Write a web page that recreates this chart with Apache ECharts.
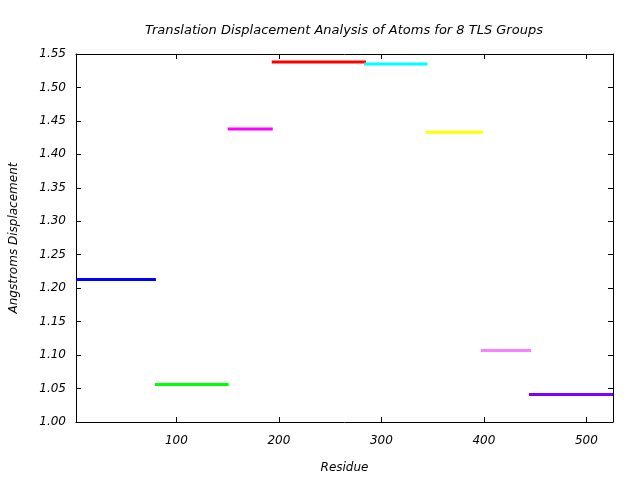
<!DOCTYPE html>
<html>
<head>
<meta charset="utf-8">
<script src="https://cdn.jsdelivr.net/npm/echarts@6/dist/echarts.min.js"></script>
<style>html,body{margin:0;padding:0;background:#fff;}#c{width:640px;height:480px;}</style>
</head>
<body>
<div id="c"></div>
<script>
var groupStart = [2, 79, 150, 193, 283, 343, 397, 444];
var groupEnd   = [80, 151, 194, 285, 345, 399, 446, 526];
var groupValue = [1.213, 1.056, 1.438, 1.538, 1.535, 1.433, 1.107, 1.041];
var groupColors = ['#0000ff', '#00ff00', '#ff00ff', '#ff0000', '#00ffff', '#ffff00', '#ff80ff', '#8000ff'];
var xTicks = [100, 200, 300, 400, 500];
var yTicks = [1.00, 1.05, 1.10, 1.15, 1.20, 1.25, 1.30, 1.35, 1.40, 1.45, 1.50, 1.55];

var FONT = 'DejaVu Sans';
var chart = echarts.init(document.getElementById('c'), null, {renderer: 'canvas'});
var series = groupStart.map(function (s, i) {
  return {
    type: 'line',
    data: [[s, groupValue[i]], [groupEnd[i], groupValue[i]]],
    showSymbol: false,
    symbol: 'none',
    lineStyle: {color: groupColors[i], width: 3, cap: 'butt'},
    silent: true,
    animation: false,
    clip: false
  };
});
var axisLine = {show: true, lineStyle: {color: '#000', width: 1}};
chart.setOption({
  animation: false,
  backgroundColor: '#fff',
  title: {
    text: 'Translation Displacement Analysis of Atoms for 8 TLS Groups',
    left: 339, top: 19, textAlign: 'center',
    textStyle: {fontFamily: FONT, fontStyle: 'italic', fontWeight: 'normal', fontSize: 13, color: '#000'}
  },
  grid: {left: 76, right: 27, top: 54, bottom: 58, containLabel: false},
  xAxis: [{
    type: 'value', min: 2, max: 526, position: 'bottom',
    name: 'Residue', nameLocation: 'middle', nameGap: 40,
    nameTextStyle: {fontFamily: FONT, fontStyle: 'italic', fontSize: 12, color: '#000'},
    axisLine: axisLine,
    axisTick: {show: true, inside: true, length: 5, customValues: xTicks, lineStyle: {color: '#000'}},
    axisLabel: {show: true, customValues: xTicks, margin: 13, fontFamily: FONT, fontStyle: 'italic', fontSize: 12, color: '#000'},
    splitLine: {show: false}
  }, {
    type: 'value', min: 2, max: 526, position: 'top',
    axisLine: axisLine,
    axisTick: {show: true, inside: true, length: 5, customValues: xTicks, lineStyle: {color: '#000'}},
    axisLabel: {show: false},
    splitLine: {show: false}
  }],
  yAxis: [{
    type: 'value', min: 1.0, max: 1.55, position: 'left',
    name: 'Angstroms Displacement', nameLocation: 'middle', nameGap: 56, nameRotate: 90,
    nameTextStyle: {fontFamily: FONT, fontStyle: 'italic', fontSize: 12, color: '#000'},
    axisLine: axisLine,
    axisTick: {show: true, inside: true, length: 5, customValues: yTicks, lineStyle: {color: '#000'}},
    axisLabel: {show: true, customValues: yTicks, margin: 10, fontFamily: FONT, fontStyle: 'italic', fontSize: 12, color: '#000',
      formatter: function (v) { return v.toFixed(2); }},
    splitLine: {show: false}
  }, {
    type: 'value', min: 1.0, max: 1.55, position: 'right',
    axisLine: axisLine,
    axisTick: {show: true, inside: true, length: 5, customValues: yTicks, lineStyle: {color: '#000'}},
    axisLabel: {show: false},
    splitLine: {show: false}
  }],
  series: series
});
</script>
</body>
</html>
